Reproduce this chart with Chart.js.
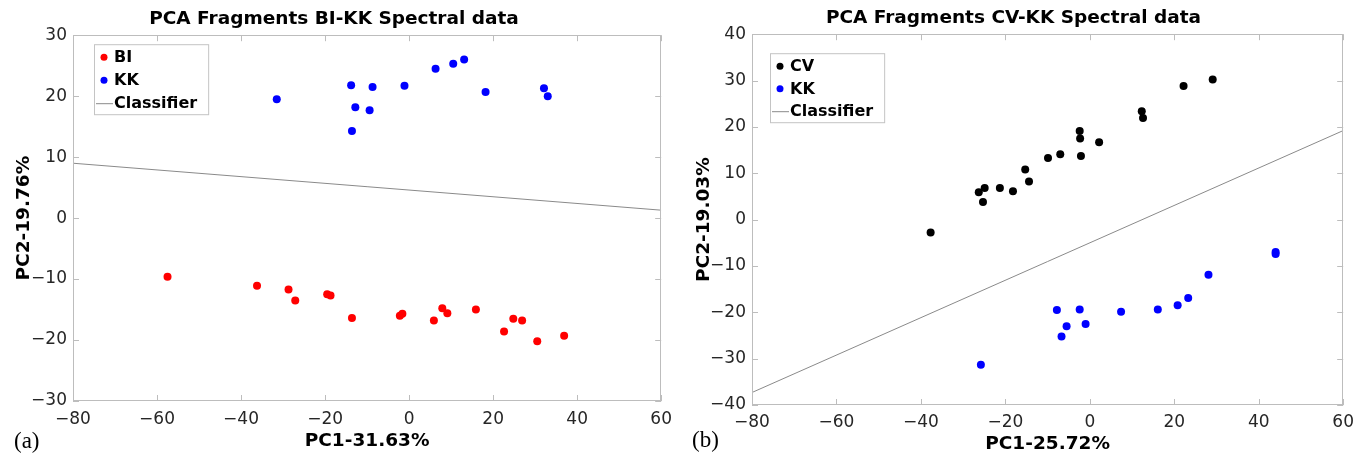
<!DOCTYPE html>
<html>
<head>
<meta charset="utf-8">
<script src="https://cdn.jsdelivr.net/npm/chart.js@4.4.0/dist/chart.umd.min.js"></script>
<style>
  body { margin: 0; background: #fff; width: 1361px; height: 457px; position: relative; overflow: hidden; }
  .panel { position: absolute; top: 0; height: 457px; }
  .tag { position: absolute; font-family: "Liberation Serif", serif; font-size: 23px; color: #000; line-height: 1; }
</style>
</head>
<body>
<div class="panel" style="left:0;width:680px"><canvas id="pca_bi"></canvas></div>
<div class="panel" style="left:680px;width:681px"><canvas id="pca_cv"></canvas></div>
<div class="tag" style="left:14px;top:429px">(a)</div>
<div class="tag" style="left:692px;top:428px">(b)</div>
<script>
// PC scores, BI vs KK
var biX = [-57.5, -36.2, -28.7, -27.1, -19.5, -18.7, -13.6, -2.2, -1.6, 5.9, 7.9, 9.1, 15.9, 22.6, 24.8, 26.9, 30.5, 36.9];
var biY = [-9.6, -11.1, -11.7, -13.5, -12.5, -12.7, -16.4, -16.0, -15.7, -16.8, -14.8, -15.6, -15.0, -18.6, -16.5, -16.8, -20.2, -19.3];
var kkaX = [-31.5, -13.8, -12.8, -13.6, -8.7, -9.4, -1.1, 6.3, 10.5, 13.1, 18.2, 32.1, 33.0];
var kkaY = [19.5, 21.8, 18.2, 14.3, 21.5, 17.7, 21.7, 24.5, 25.3, 26.0, 20.7, 21.3, 20.0];
var classAX = [-80, 60];
var classAY = [9.0, 1.3];

// PC scores, CV vs KK
var cvX = [-37.7, -26.3, -24.9, -25.3, -21.3, -18.2, -15.3, -14.4, -9.9, -7.0, -2.4, -2.3, -2.1, 2.2, 12.3, 12.6, 22.2, 29.1];
var cvY = [-2.8, 5.9, 6.8, 3.8, 6.8, 6.1, 10.8, 8.2, 13.3, 14.1, 19.1, 17.5, 13.7, 16.7, 23.4, 21.9, 28.8, 30.2];
var kkbX = [-25.8, -7.8, -6.7, -5.5, -2.4, -1.0, 7.4, 16.1, 20.8, 23.3, 28.1, 44.0, 44.0];
var kkbY = [-31.3, -19.5, -25.2, -23.0, -19.4, -22.5, -19.9, -19.4, -18.5, -16.9, -11.9, -7.0, -7.4];
var classBX = [-80, 60];
var classBY = [-37.3, 19.2];

// axis ticks
var xTicks = [-80, -60, -40, -20, 0, 20, 40, 60];
var yTicksA = [-30, -20, -10, 0, 10, 20, 30];
var yTicksB = [-40, -30, -20, -10, 0, 10, 20, 30, 40];

function pts(xs, ys) {
  return xs.map(function (x, i) { return { x: x, y: ys[i] }; });
}

function minusSign(v) {
  return String(v).replace('-', '\u2212');
}

// axes box with inward tick marks on all four sides
var boxFrame = {
  id: 'boxFrame',
  afterDatasetsDraw: function (chart) {
    var a = chart.chartArea, ctx = chart.ctx;
    var sx = chart.scales.x, sy = chart.scales.y;
    ctx.save();
    ctx.strokeStyle = '#bdbdbd';
    ctx.lineWidth = 1;
    ctx.strokeRect(Math.round(a.left) + 0.5, Math.round(a.top) + 0.5,
      Math.round(a.right - a.left) - 1, Math.round(a.bottom - a.top) - 1);
    ctx.beginPath();
    sx.ticks.forEach(function (t) {
      var px = Math.round(sx.getPixelForValue(t.value)) + 0.5;
      ctx.moveTo(px, a.bottom); ctx.lineTo(px, a.bottom - 6);
      ctx.moveTo(px, a.top); ctx.lineTo(px, a.top + 6);
    });
    sy.ticks.forEach(function (t) {
      var py = Math.round(sy.getPixelForValue(t.value)) + 0.5;
      ctx.moveTo(a.left, py); ctx.lineTo(a.left + 6, py);
      ctx.moveTo(a.right, py); ctx.lineTo(a.right - 6, py);
    });
    ctx.stroke();
    ctx.restore();
  }
};

// legend box placed inside the plot
var boxLegend = {
  id: 'boxLegend',
  afterDraw: function (chart, args, opts) {
    var ctx = chart.ctx, sets = chart.data.datasets;
    var left = chart.chartArea.left + opts.dx, top = chart.chartArea.top + opts.dy;
    ctx.save();
    ctx.font = 'bold 16px "DejaVu Sans"';
    var w = 0;
    sets.forEach(function (d) { w = Math.max(w, ctx.measureText(d.label).width); });
    var bw = 20 + w + 11, bh = 13 + opts.rowHeight * (sets.length - 1) + 11;
    ctx.fillStyle = '#fff';
    ctx.fillRect(left, top, bw, bh);
    ctx.strokeStyle = '#c4c4c4';
    ctx.lineWidth = 1;
    ctx.strokeRect(left + 0.5, top + 0.5, bw, bh);
    ctx.textBaseline = 'middle';
    sets.forEach(function (d, i) {
      var cy = top + 13 + i * opts.rowHeight;
      if (d.showLine) {
        ctx.strokeStyle = d.borderColor;
        ctx.beginPath();
        ctx.moveTo(left + 2, cy + 0.5); ctx.lineTo(left + 19, cy + 0.5);
        ctx.stroke();
      } else {
        ctx.fillStyle = d.backgroundColor;
        ctx.beginPath();
        ctx.arc(left + 10, cy, 3.5, 0, Math.PI * 2);
        ctx.fill();
      }
      ctx.fillStyle = '#000';
      ctx.fillText(d.label, left + 20, cy + 1);
    });
    ctx.restore();
  }
};

function pcaChart(id, cfg) {
  var tickFont = { family: 'DejaVu Sans', size: 17 };
  var titleFont = { family: 'DejaVu Sans', size: 18.5, weight: 'bold' };
  return new Chart(document.getElementById(id), {
    type: 'scatter',
    data: {
      datasets: [
        { label: cfg.names[0], data: cfg.first, backgroundColor: cfg.colors[0], borderColor: cfg.colors[0], pointRadius: 4, pointBorderWidth: 0 },
        { label: cfg.names[1], data: cfg.second, backgroundColor: cfg.colors[1], borderColor: cfg.colors[1], pointRadius: 4, pointBorderWidth: 0 },
        { label: 'Classifier', data: cfg.line, showLine: true, borderColor: '#8a8a8a', borderWidth: 1, pointRadius: 0, fill: false }
      ]
    },
    options: {
      responsive: true,
      maintainAspectRatio: false,
      animation: false,
      layout: { padding: { left: 0, right: cfg.padRight, top: 0, bottom: 0 } },
      plugins: {
        legend: { display: false },
        tooltip: { enabled: false },
        title: {
          display: true,
          text: cfg.title,
          color: '#000',
          font: titleFont,
          padding: { top: cfg.titleTop, bottom: cfg.titleBottom }
        },
        boxLegend: cfg.legend
      },
      scales: {
        x: {
          type: 'linear',
          min: -80, max: 60,
          grid: { display: false, drawTicks: false },
          border: { display: false },
          afterBuildTicks: function (s) { s.ticks = xTicks.map(function (v) { return { value: v }; }); },
          afterFit: function (s) { s.height = cfg.xHeight; },
          ticks: { font: tickFont, color: '#262626', padding: cfg.xTickPad, maxRotation: 0, callback: minusSign },
          title: { display: true, text: cfg.xTitle, color: '#000', font: titleFont, padding: { top: 0, bottom: cfg.xTitleBottom } }
        },
        y: {
          type: 'linear',
          min: cfg.yTicks[0], max: cfg.yTicks[cfg.yTicks.length - 1],
          grid: { display: false, drawTicks: false },
          border: { display: false },
          afterBuildTicks: function (s) { s.ticks = cfg.yTicks.map(function (v) { return { value: v }; }); },
          afterFit: function (s) { s.width = cfg.yWidth; },
          ticks: { font: tickFont, color: '#262626', padding: 6, callback: minusSign },
          title: { display: true, text: cfg.yTitle, color: '#000', font: titleFont, padding: { top: 13, bottom: 0 } }
        }
      }
    },
    plugins: [boxFrame, boxLegend]
  });
}

pcaChart('pca_bi', {
  title: 'PCA Fragments BI-KK Spectral data',
  xTitle: 'PC1-31.63%',
  yTitle: 'PC2-19.76%',
  names: ['BI', 'KK'],
  colors: ['#ff0000', '#0000ff'],
  first: pts(biX, biY),
  second: pts(kkaX, kkaY),
  line: pts(classAX, classAY),
  yTicks: yTicksA,
  yWidth: 73,
  padRight: 12,
  titleTop: 8,
  titleBottom: 5,
  xHeight: 56,
  xTickPad: 8,
  xTitleBottom: 5,
  legend: { dx: 21, dy: 9, rowHeight: 23 }
});

pcaChart('pca_cv', {
  title: 'PCA Fragments CV-KK Spectral data',
  xTitle: 'PC1-25.72%',
  yTitle: 'PC2-19.03%',
  names: ['CV', 'KK'],
  colors: ['#000000', '#0000ff'],
  first: pts(cvX, cvY),
  second: pts(kkbX, kkbY),
  line: pts(classBX, classBY),
  yTicks: yTicksB,
  yWidth: 72,
  padRight: 14,
  titleTop: 7,
  titleBottom: 5,
  xHeight: 52,
  xTickPad: 7,
  xTitleBottom: 2,
  legend: { dx: 18, dy: 19, rowHeight: 22.5 }
});
</script>
</body>
</html>
